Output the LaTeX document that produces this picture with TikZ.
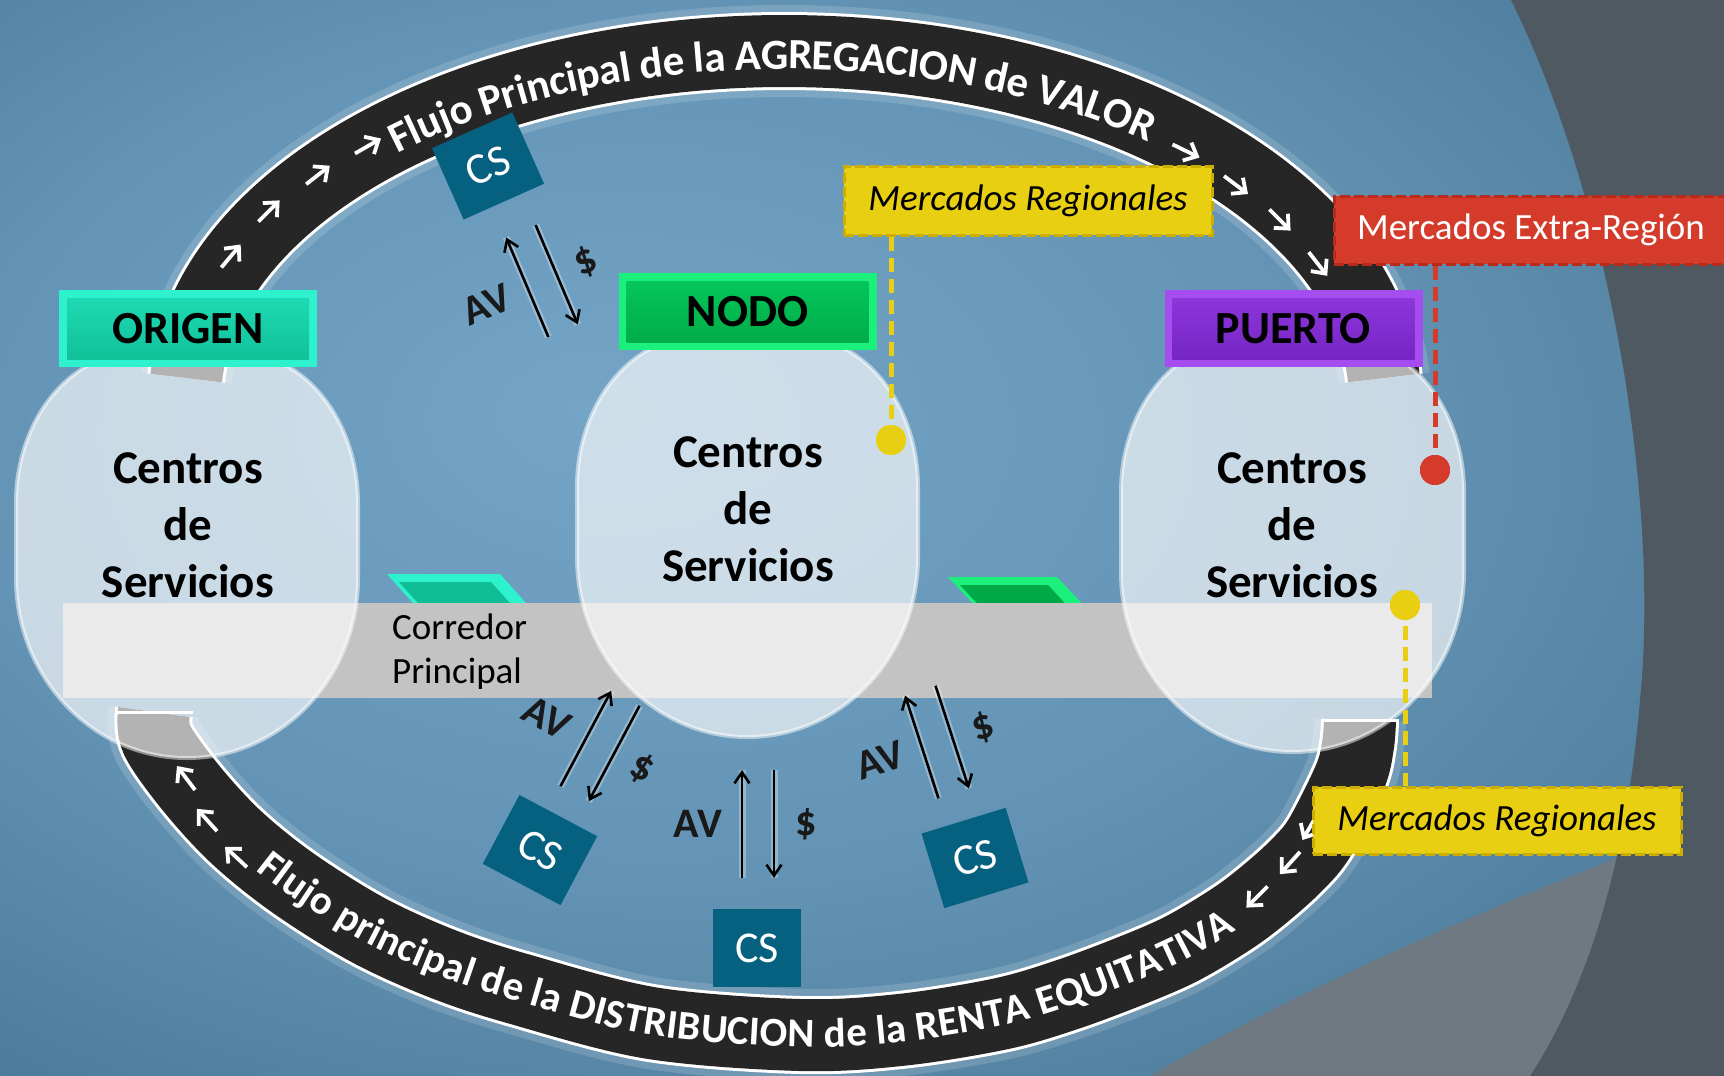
\documentclass[tikz,border=0pt]{standalone}
\usepackage{fontspec}
\setmainfont{Carlito}
\usetikzlibrary{arrows.meta,decorations.text}
\definecolor{bgA}{HTML}{74A5C6}
\definecolor{bgB}{HTML}{6494B5}
\definecolor{bgC}{HTML}{3F6C8B}
\definecolor{bgD}{HTML}{2A4D66}
\definecolor{grayDk}{HTML}{4F5962}
\definecolor{grayLt}{HTML}{6E7981}
\definecolor{ringc}{HTML}{262626}
\definecolor{bandc}{HTML}{C3C3C3}
\definecolor{csc}{HTML}{05617F}
\definecolor{orgO}{HTML}{2EF2CE}
\definecolor{orgI1}{HTML}{1FDDB5}
\definecolor{orgI2}{HTML}{0FBE97}
\definecolor{nodO}{HTML}{1CF07C}
\definecolor{nodI1}{HTML}{05C95C}
\definecolor{nodI2}{HTML}{00A947}
\definecolor{purO}{HTML}{A64DEF}
\definecolor{purI1}{HTML}{9038DD}
\definecolor{purI2}{HTML}{7323C2}
\definecolor{mry}{HTML}{E9CF12}
\definecolor{mryd}{HTML}{CDAE00}
\definecolor{mrr}{HTML}{D43B2B}
\definecolor{mrrd}{HTML}{B82A1C}
\pgfdeclareradialshading{bgsh}{\pgfpoint{-8bp}{6bp}}{color(0bp)=(bgA); color(20bp)=(bgB); color(44bp)=(bgC); color(72bp)=(bgD)}
\newcommand\bubblepath[4]{(#1,-#3-150) arc[start angle=180,end angle=90,x radius=120,y radius=150] -- (#2-120,-#3) arc[start angle=90,end angle=0,x radius=120,y radius=150] -- (#2,-#4+180) arc[start angle=0,end angle=-180,x radius={(#2-#1)/2},y radius=180] -- cycle}
\newcommand\avgroup[4]{%
  \begin{scope}[shift={(#2,#3)}, rotate=#4]
    \node[avt] (#1a) at (-60,0) {AV};
    \coordinate (#1u0) at (-16,-54);
    \coordinate (#1u1) at (-16,54);
    \coordinate (#1d0) at (16,54);
    \coordinate (#1d1) at (16,-54);
    \draw[avarrow] (#1u0) -- (#1u1);
    \draw[avarrow] (#1d0) -- (#1d1);
    \node[avt] (#1s) at (48,0) {\$};
  \end{scope}}
\def\ringtxtA{\bfseries\fontsize{43}{43}\selectfont\color{white}}
\def\ringtxtB{\bfseries\fontsize{41}{41}\selectfont\color{white}}
\begin{document}
\begin{tikzpicture}[x=1pt,y=1pt,
  ringband/.style={draw=white, line width=3, double=ringc, double distance=72, line cap=butt, preaction={draw=white, draw opacity=0.15, line width=92}},
  ringarrow/.style={draw=white, line width=3.8, -{Straight Barb[length=11pt,width=20pt]}},
  bubble/.style={fill=white, fill opacity=0.65, draw=white, draw opacity=0.5, line width=4},
  lbl/.style={minimum width=258, minimum height=77, inner sep=0, font=\bfseries\fontsize{46}{46}\selectfont, text=black},
  centros/.style={align=center, inner sep=0, font=\bfseries\fontsize{47}{57}\selectfont, text=black},
  corr/.style={align=left, inner sep=0, font=\fontsize{37}{44}\selectfont, text=black},
  csbox/.style={fill=csc, text=white, minimum width=88, minimum height=78, inner sep=0, font=\fontsize{44}{44}\selectfont},
  avt/.style={inner sep=0, transform shape, font=\bfseries\fontsize{42}{42}\selectfont, text=black!90},
  avarrow/.style={draw=black, line width=2.6, -{Straight Barb[length=11pt,width=15pt]}, preaction={draw=white, line width=7, draw opacity=0.3, -}},
  ybox/.style={fill=mry, draw=mryd, line width=3, dash pattern=on 10 off 4, inner sep=0, font=\itshape\fontsize{37}{37}\selectfont, text=black},
  rbox/.style={fill=mrr, draw=mrrd, line width=3, dash pattern=on 10 off 4, inner sep=0, font=\fontsize{37}{37}\selectfont, text=white},
  ydot/.style={circle, fill=mry, minimum size=30, inner sep=0},
  rdot/.style={circle, fill=mrr, minimum size=30, inner sep=0},
  ydash/.style={draw=mry, line width=5, dash pattern=on 14 off 7},
  rdash/.style={draw=mrr, line width=5, dash pattern=on 14 off 7}
]
\useasboundingbox (0,0) rectangle (1724,-1076);
% background
\path[shading=bgsh] (0,0) rectangle (1724,-1076);
\fill[grayLt] (1724,-816) .. controls (1560,-880) and (1350,-960) .. (1150,-1076) -- (1724,-1076) -- cycle;
\fill[grayDk] (1511,0) .. controls (1610,-200) and (1660,-500) .. (1640,-700) .. controls (1625,-880) and (1580,-1000) .. (1530,-1076) -- (1724,-1076) -- (1724,0) -- cycle;
% ring: upper arc (value flow)
\draw[ringband, shift={(785,-400)}] (176.4:600 and 349) arc[start angle=176.4, end angle=3.6, x radius=600, y radius=349];
\path[shift={(785,-400)}, decorate, decoration={text along path, text align={left, left indent=328pt}, raise=-18pt, text={|\ringtxtA|Flujo Principal de la AGREGACION de VALOR}}] (176.4:600 and 349) arc[start angle=176.4, end angle=3.6, x radius=600, y radius=349];
% ring: lower arc (income flow)
\draw[ringband] plot[smooth, tension=0.55] coordinates {(154,-712) (157,-740) (191,-788) (236,-837) (293,-883) (368,-930) (443,-964) (519,-989) (651,-1023) (800,-1035) (900,-1030) (1000,-1014) (1066,-995) (1133,-970) (1183,-948) (1233,-918) (1266,-893) (1297,-865) (1320,-837) (1350,-777) (1358,-745) (1360,-720)};
\draw[white, line width=3] (115,-712) -- (193,-712);
\draw[white, line width=3] (1321,-720) -- (1399,-720);
\path[decorate, decoration={text along path, text align={left, left indent=190pt}, raise=-12pt, text={|\ringtxtB|Flujo principal de la DISTRIBUCION de la RENTA EQUITATIVA}}] plot[smooth, tension=0.55] coordinates {(154,-712) (157,-740) (191,-788) (236,-837) (293,-883) (368,-930) (443,-964) (519,-989) (651,-1023) (800,-1035) (900,-1030) (1000,-1014) (1066,-995) (1133,-970) (1183,-948) (1233,-918) (1266,-893) (1297,-865) (1320,-837) (1350,-777) (1358,-745) (1360,-720)};
% ring arrows
\foreach \x/\y/\a in {231/256/50, 269/211/45, 318/175/38, 368/146/30, 1186/151/-26, 1236/185/-37, 1280/220/-45, 1318/264/-52, 186/778/127, 207/820/132, 236/857/137, 1257/897/225, 1290/863/228, 1310/827/240}{
  \draw[ringarrow, shift={(\x,-\y)}, rotate=\a] (-15,0) -- (15,0);
}
% parallelograms
\fill[orgO] (387,-574) -- (500,-574) -- (534,-612) -- (421,-612) -- cycle;
\fill[orgI2] (399,-582) -- (491,-582) -- (518,-612) -- (426,-612) -- cycle;
\fill[nodO] (948,-577) -- (1057,-577) -- (1090,-612) -- (981,-612) -- cycle;
\fill[nodI2] (960,-585) -- (1048,-585) -- (1073,-612) -- (985,-612) -- cycle;
% corridor band
\fill[bandc] (63,-603) rectangle (1432,-698);
% bubbles
\path[bubble] \bubblepath{16}{358}{353}{758};
\path[bubble] \bubblepath{577}{918}{337}{737};
\path[bubble] \bubblepath{1121}{1464}{342}{752};
% labels
\node[lbl, fill=orgO, path picture={\shade[top color=orgI1,bottom color=orgI2] ([shift={(8,-8)}]path picture bounding box.north west) rectangle ([shift={(-8,8)}]path picture bounding box.south east);}] (orig) at (188,-328.5) {ORIGEN};
\node[lbl, fill=nodO, path picture={\shade[top color=nodI1,bottom color=nodI2] ([shift={(8,-8)}]path picture bounding box.north west) rectangle ([shift={(-8,8)}]path picture bounding box.south east);}] (nodo) at (747.5,-311.5) {NODO};
\node[lbl, fill=purO, path picture={\shade[top color=purI1,bottom color=purI2] ([shift={(8,-8)}]path picture bounding box.north west) rectangle ([shift={(-8,8)}]path picture bounding box.south east);}] (puerto) at (1293.5,-328.5) {PUERTO};
% centres text
\node[centros] (cen1) at (188,-525) {Centros\\de\\Servicios};
\node[centros] (cen2) at (748,-509) {Centros\\de\\Servicios};
\node[centros] (cen3) at (1292,-525) {Centros\\de\\Servicios};
\node[corr, anchor=west] (corr) at (392,-652) {Corredor\\Principal};
% CS boxes
\node[csbox, rotate=24] (cs1) at (488,-166) {CS};
\node[csbox, rotate=-28] (cs2) at (540,-850) {CS};
\node[csbox] (cs3) at (757,-948) {CS};
\node[csbox, rotate=17] (cs4) at (975,-858) {CS};
% AV groups
\avgroup{g1}{542}{-281}{23}
\avgroup{g2}{600}{-746}{-28}
\avgroup{g3}{758}{-824}{0}
\avgroup{g4}{937}{-742}{18}
% mercados
\node[ybox, minimum width=368, minimum height=69] (mr1) at (1028,-200.5) {Mercados Regionales};
\node[rbox, minimum width=394, minimum height=68] (mer) at (1531,-230) {Mercados Extra-Región};
\node[ybox, minimum width=368, minimum height=67] (mr2) at (1497,-820.5) {Mercados Regionales};
\node[ydot] (yd1) at (891,-440) {};
\node[rdot] (rd1) at (1435,-470) {};
\node[ydot] (yd2) at (1405,-605) {};
\draw[ydash] (mr1.south -| yd1.center) -- (yd1.center);
\draw[rdash] (mer.south -| rd1.center) -- (rd1.center);
\draw[ydash] (yd2.center) -- (yd2.center |- mr2.north);
\node[ydot] at (yd1) {};
\node[rdot] at (rd1) {};
\node[ydot] at (yd2) {};
\end{tikzpicture}
\end{document}
